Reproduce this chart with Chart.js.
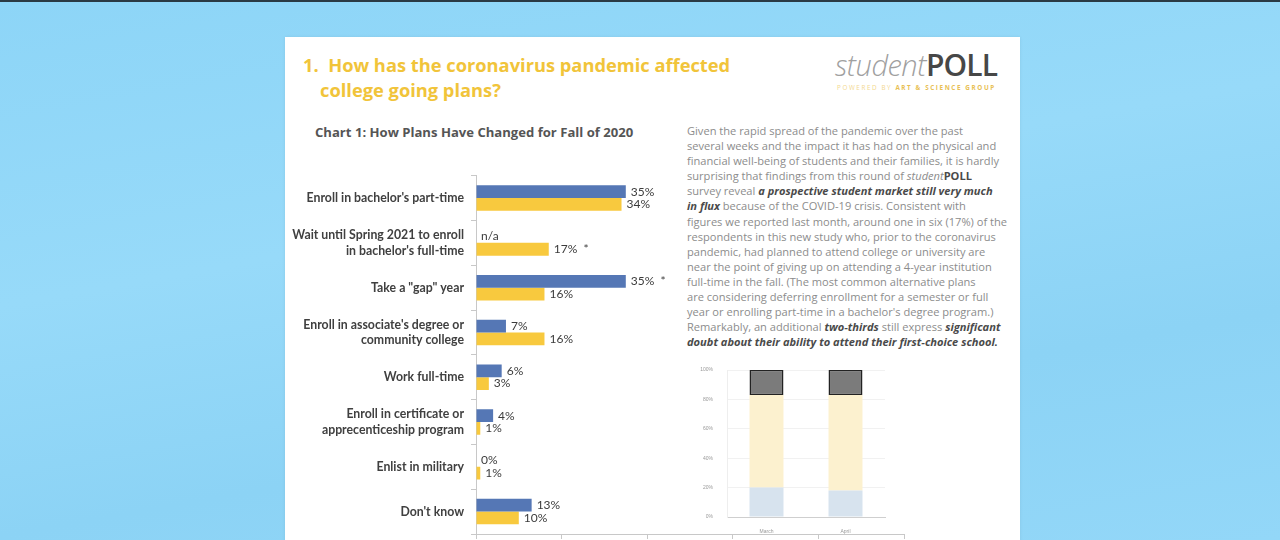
<!DOCTYPE html>
<html>
<head>
<meta charset="utf-8">
<script src="https://cdn.jsdelivr.net/npm/chart.js@4.4.0/dist/chart.umd.min.js"></script>
<style>
  html, body { margin: 0; padding: 0; }
  body {
    width: 1280px; height: 540px; overflow: hidden; position: relative;
    background: linear-gradient(170deg, #8dd5f7 0%, #97daf9 40%, #8cd3f5 70%, #93d7f8 100%);
    font-family: "Open Sans", sans-serif;
  }
  #topline { position: absolute; left: 0; top: 0; width: 1280px; height: 2px; background: #2a3a44; }
  #page {
    position: absolute; left: 285px; top: 37px; width: 735px; height: 520px;
    background: #fff; box-shadow: 0 0 3px rgba(0,0,0,0.08);
  }
  .title { position: absolute; color: #f1c43a; font-weight: 700; font-size: 18.3px; white-space: nowrap; }
  #logo { position: absolute; left: 835px; top: 44px; white-space: nowrap; }
  #logo .s { font-family: "Open Sans", sans-serif; font-style: italic; font-weight: 300; font-size: 29px; color: #a0a0a0; letter-spacing: -0.5px; }
  #logo .p { font-family: "Open Sans", sans-serif; font-weight: 600; font-size: 30px; color: #474747; letter-spacing: -0.8px; }
  #powered { position: absolute; left: 837px; top: 83px; font-size: 6.3px; color: #f3d88f; letter-spacing: 1.6px; white-space: nowrap; }
  #powered b { color: #e8bf55; }
  #ctitle { position: absolute; left: 315px; top: 123px; font-size: 13.1px; font-weight: 700; color: #555; white-space: nowrap; }
  #para { position: absolute; left: 687px; top: 123px; font-size: 11.1px; color: #8c8c8c; line-height: 15.1px; white-space: nowrap; }
  #para b { color: #4a4a4a; }
  #bars { position: absolute; left: 290px; top: 161px; }
  #stack { position: absolute; left: 695px; top: 353px; }
</style>
</head>
<body>
<div id="topline"></div>
<div id="page"></div>
<div class="title" style="left:303px; top:52px;">1.&nbsp;&nbsp;How has the coronavirus pandemic affected</div>
<div class="title" style="left:320px; top:77px;">college going plans?</div>
<div id="logo"><span class="s">student</span><span class="p">POLL</span></div>
<div id="powered">POWERED BY <b>ART &amp; SCIENCE GROUP</b></div>
<div id="ctitle">Chart 1: How Plans Have Changed for Fall of 2020</div>
<div id="para">
Given the rapid spread of the pandemic over the past<br>
several weeks and the impact it has had on the physical and<br>
financial well-being of students and their families, it is hardly<br>
surprising that findings from this round of <i>student</i><b>POLL</b><br>
survey reveal <b><i>a prospective student market still very much</i></b><br>
<b><i>in flux</i></b> because of the COVID-19 crisis. Consistent with<br>
figures we reported last month, around one in six (17%) of the<br>
respondents in this new study who, prior to the coronavirus<br>
pandemic, had planned to attend college or university are<br>
near the point of giving up on attending a 4-year institution<br>
full-time in the fall. (The most common alternative plans<br>
are considering deferring enrollment for a semester or full<br>
year or enrolling part-time in a bachelor's degree program.)<br>
Remarkably, an additional <b><i>two-thirds</i></b> still express <b><i>significant</i></b><br>
<b><i>doubt about their ability to attend their first-choice school.</i></b>
</div>
<canvas id="bars" width="640" height="399"></canvas>
<canvas id="stack" width="200" height="187"></canvas>
<script>
// Chart 1 data
const categories = [
  "Enroll in bachelor's part-time",
  ["Wait until Spring 2021 to enroll", "in bachelor's full-time"],
  'Take a "gap" year',
  ["Enroll in associate's degree or", "community college"],
  "Work full-time",
  ["Enroll in certificate or", "apprecenticeship program"],
  "Enlist in military",
  "Don't know"
];
const marchValues = [35, null, 35, 7, 6, 4, 0, 13];
const aprilValues = [34, 17, 16, 16, 3, 1, 1, 10];
const marchLabels = ["35%", "n/a", "35%  *", "7%", "6%", "4%", "0%", "13%"];
const aprilLabels = ["34%", "17%  *", "16%", "16%", "3%", "1%", "1%", "10%"];
const xTicks = [0, 20, 40, 60, 80, 100];

// small stacked chart data
const months = ["March", "April"];
const lowShare = [20, 18];
const midShare = [63, 65];
const topShare = [17, 17];
const shareTicks = [0, 20, 40, 60, 80, 100];

const labelFont = '12px Lato, "Open Sans", sans-serif';

const barLabels = {
  id: "barLabels",
  afterDatasetsDraw(chart) {
    const ctx = chart.ctx;
    const xs = chart.scales.x;
    const sets = [marchLabels, aprilLabels];
    ctx.save();
    ctx.font = labelFont;
    ctx.fillStyle = "#3c3c3c";
    ctx.textBaseline = "middle";
    chart.data.datasets.forEach(function (ds, di) {
      const meta = chart.getDatasetMeta(di);
      meta.data.forEach(function (bar, i) {
        const v = ds.data[i] == null ? 0 : ds.data[i];
        ctx.fillText(sets[di][i], xs.getPixelForValue(v) + 5, bar.y);
      });
    });
    ctx.restore();
  }
};

new Chart(document.getElementById("bars"), {
  type: "bar",
  data: {
    labels: categories,
    datasets: [
      { label: "March", data: marchValues, backgroundColor: "#5577b5",
        categoryPercentage: 0.57, barPercentage: 1 },
      { label: "April", data: aprilValues, backgroundColor: "#f8c93e",
        categoryPercentage: 0.57, barPercentage: 1 }
    ]
  },
  options: {
    indexAxis: "y",
    responsive: false,
    animation: false,
    layout: { padding: { top: 6, right: 26, left: 0, bottom: 0 } },
    scales: {
      x: {
        min: 0, max: 100,
        afterBuildTicks: function (scale) {
          scale.ticks = xTicks.map(function (v) { return { value: v }; });
        },
        afterFit: function (scale) { scale.height = 26; },
        border: { color: "#c8c8c8" },
        grid: { drawOnChartArea: false, tickLength: 5, color: "#c8c8c8" },
        ticks: { display: false }
      },
      y: {
        afterFit: function (scale) { scale.width = 186; },
        border: { color: "#c8c8c8" },
        grid: { drawOnChartArea: false, tickLength: 5, color: "#c8c8c8", offset: true },
        ticks: {
          color: "#404040",
          padding: 7,
          font: { family: "Lato", size: 12.3, weight: "bold", lineHeight: 1.25 }
        }
      }
    },
    plugins: { legend: { display: false }, tooltip: { enabled: false } }
  },
  plugins: [barLabels]
});

new Chart(document.getElementById("stack"), {
  type: "bar",
  data: {
    labels: months,
    datasets: [
      { data: lowShare, backgroundColor: "#d7e3ee", categoryPercentage: 0.43, barPercentage: 1 },
      { data: midShare, backgroundColor: "#fcf1cf", categoryPercentage: 0.43, barPercentage: 1 },
      { data: topShare, backgroundColor: "#7b7b7b", borderColor: "#222", borderWidth: 1.5,
        borderSkipped: false, categoryPercentage: 0.43, barPercentage: 1 }
    ]
  },
  options: {
    responsive: false,
    animation: false,
    layout: { padding: { top: 12, right: 10, left: 0, bottom: 0 } },
    scales: {
      x: {
        stacked: true,
        afterFit: function (scale) { scale.height = 23; },
        border: { color: "#cfcfcf" },
        grid: { display: false },
        ticks: { color: "#999", font: { size: 5 }, padding: 4 }
      },
      y: {
        stacked: true, min: 0, max: 100,
        afterBuildTicks: function (scale) {
          scale.ticks = shareTicks.map(function (v) { return { value: v }; });
        },
        afterFit: function (scale) { scale.width = 32; },
        border: { color: "#eeeeee" },
        grid: { color: "#f1f1f1", drawTicks: false },
        ticks: { color: "#999", font: { size: 5 }, padding: 14, autoSkip: false,
          callback: function (v) { return v + "%"; } }
      }
    },
    plugins: { legend: { display: false }, tooltip: { enabled: false } }
  }
});
</script>
</body>
</html>
